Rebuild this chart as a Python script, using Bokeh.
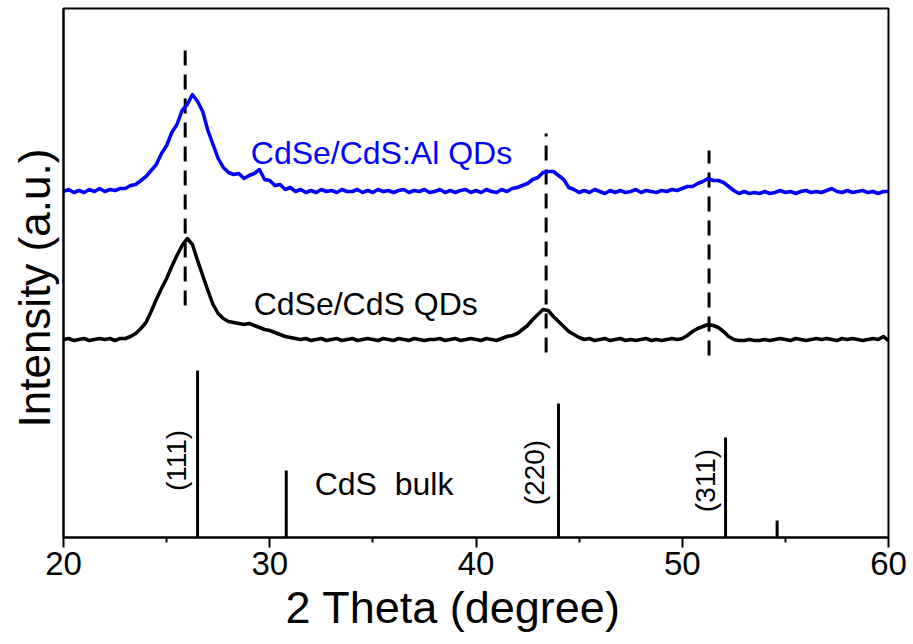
import math
from bokeh.plotting import figure
from bokeh.models import Range1d, Label, FixedTicker, Title
from bokeh.embed import file_html
from bokeh.resources import INLINE

# ---- data (2 theta in degrees, intensity in a.u.) ----
theta = [
    20.0, 20.25, 20.5, 20.75, 21.0, 21.25, 21.5, 21.75, 22.0, 22.25, 22.5, 22.75,
    23.0, 23.25, 23.5, 23.75, 24.0, 24.25, 24.5, 24.75, 25.0, 25.25, 25.5, 25.75,
    26.0, 26.25, 26.5, 26.75, 27.0, 27.25, 27.5, 27.75, 28.0, 28.25, 28.5, 28.75,
    29.0, 29.25, 29.5, 29.75, 30.0, 30.25, 30.5, 30.75, 31.0, 31.25, 31.5, 31.75,
    32.0, 32.25, 32.5, 32.75, 33.0, 33.25, 33.5, 33.75, 34.0, 34.25, 34.5, 34.75,
    35.0, 35.25, 35.5, 35.75, 36.0, 36.25, 36.5, 36.75, 37.0, 37.25, 37.5, 37.75,
    38.0, 38.25, 38.5, 38.75, 39.0, 39.25, 39.5, 39.75, 40.0, 40.25, 40.5, 40.75,
    41.0, 41.25, 41.5, 41.75, 42.0, 42.25, 42.5, 42.75, 43.0, 43.25, 43.5, 43.75,
    44.0, 44.25, 44.5, 44.75, 45.0, 45.25, 45.5, 45.75, 46.0, 46.25, 46.5, 46.75,
    47.0, 47.25, 47.5, 47.75, 48.0, 48.25, 48.5, 48.75, 49.0, 49.25, 49.5, 49.75,
    50.0, 50.25, 50.5, 50.75, 51.0, 51.25, 51.5, 51.75, 52.0, 52.25, 52.5, 52.75,
    53.0, 53.25, 53.5, 53.75, 54.0, 54.25, 54.5, 54.75, 55.0, 55.25, 55.5, 55.75,
    56.0, 56.25, 56.5, 56.75, 57.0, 57.25, 57.5, 57.75, 58.0, 58.25, 58.5, 58.75,
    59.0, 59.25, 59.5, 59.75, 60.0,
]

blue_int = [
    346, 348, 345, 347, 345, 348, 346, 349, 346, 348, 347, 349,
    349, 352, 353, 357, 361, 367, 373, 384, 392, 405, 413, 427,
    433, 443, 436, 426, 407, 393, 379, 370, 365, 363, 364, 359,
    362, 364, 368, 358, 357, 352, 353, 348, 350, 346, 348, 345,
    347, 345, 348, 346, 347, 345, 348, 346, 346, 348, 345, 347,
    345, 348, 346, 347, 345, 347, 348, 345, 347, 346, 348, 345,
    346, 348, 345, 347, 345, 347, 348, 345, 347, 345, 348, 346,
    345, 348, 346, 349, 350, 352, 354, 358, 360, 365, 366, 366,
    362, 358, 350, 348, 345, 347, 345, 348, 346, 344, 347, 345,
    347, 345, 346, 348, 345, 347, 346, 345, 347, 346, 348, 347,
    349, 351, 351, 354, 356, 359, 357, 357, 355, 351, 347, 344,
    346, 344, 345, 344, 346, 344, 345, 347, 345, 346, 344, 346,
    347, 345, 346, 345, 347, 349, 346, 345, 347, 345, 346, 347,
    345, 346, 344, 346, 346,
]

black_int = [
    198, 199, 197, 198, 199, 197, 198, 199, 198, 199, 197, 199,
    199, 201, 204, 209, 215, 226, 238, 249, 259, 271, 282, 292,
    299, 293, 277, 262, 247, 233, 224, 219, 216, 215, 214, 213,
    214, 212, 210, 208, 207, 205, 203, 201, 200, 199, 198, 199,
    197, 198, 199, 197, 198, 199, 197, 198, 199, 197, 198, 199,
    198, 197, 199, 198, 197, 199, 198, 197, 199, 198, 197, 198,
    198, 199, 197, 198, 199, 197, 198, 199, 198, 197, 199, 198,
    197, 199, 201, 202, 204, 208, 212, 218, 223, 228, 227, 221,
    216, 211, 206, 203, 200, 198, 199, 197, 198, 199, 197, 198,
    199, 197, 198, 197, 198, 199, 197, 198, 197, 198, 199, 198,
    199, 202, 206, 209, 211, 213, 212, 210, 206, 201, 198, 197,
    197, 198, 197, 197, 198, 197, 198, 199, 198, 197, 199, 198,
    197, 198, 199, 198, 199, 198, 197, 199, 198, 199, 198, 197,
    198, 199, 198, 201, 197,
]

bulk_theta = [26.5, 30.8, 44.0, 52.1, 54.6]
bulk_int = [167, 67, 134, 100, 17]

dash_theta = [25.9, 43.4, 51.3]
dash_top = [494, 404, 387]
dash_bottom = [232, 185, 182]

hkl_labels = ["(111)", "(220)", "(311)"]
hkl_theta = [25.46, 42.86, 51.14]
hkl_y = [77, 65, 57]

x_ticks = [20, 30, 40, 50, 60]
x_minor = [25, 35, 45, 55]

FONT = "Liberation Sans"

p = figure(width=913, height=644, output_backend="svg", toolbar_location=None,
           x_range=Range1d(20, 60), y_range=Range1d(0, 529),
           min_border_left=63, min_border_right=25, min_border_top=8, min_border_bottom=107)
p.xgrid.visible = False
p.ygrid.visible = False
p.outline_line_color = "black"
p.outline_line_width = 2
p.background_fill_color = "white"
p.border_fill_color = "white"

# x axis
xa = p.xaxis[0]
xa.ticker = FixedTicker(ticks=x_ticks, minor_ticks=x_minor)
xa.axis_line_width = 2
xa.major_tick_line_width = 2
xa.minor_tick_line_width = 2
xa.major_tick_in = 0
xa.major_tick_out = 10
xa.minor_tick_in = 0
xa.minor_tick_out = 5
xa.major_label_text_font = FONT
xa.major_label_text_font_size = "33px"
xa.major_label_text_color = "black"
xa.major_label_standoff = 4

# y axis (no ticks)
ya = p.yaxis[0]
ya.ticker = FixedTicker(ticks=[])
ya.axis_line_width = 2
ya.major_tick_out = 0
ya.major_tick_in = 0
ya.minor_tick_out = 0
ya.minor_tick_in = 0
ya.major_label_text_font_size = "0px"

# axis titles (side-panel titles so that they can be placed like the reference)
p.add_layout(Title(text="2 Theta (degree)", align="left", offset=222, standoff=5,
                   text_font=FONT, text_font_size="45px", text_font_style="normal",
                   text_color="black"), "below")
p.add_layout(Title(text="Intensity (a.u.)", align="left", offset=110, standoff=9,
                   text_font=FONT, text_font_size="44px", text_font_style="normal",
                   text_color="black"), "left")

# dashed guide lines
p.segment(x0=dash_theta, y0=dash_bottom, x1=dash_theta, y1=dash_top,
          line_color="black", line_width=3, line_dash="15 9")

# XRD curves
p.line(theta, black_int, line_color="black", line_width=3.5, line_join="round")
p.line(theta, blue_int, line_color="#0000ff", line_width=3.5, line_join="round")

# bulk reference sticks
p.segment(x0=bulk_theta, y0=[0] * len(bulk_theta), x1=bulk_theta, y1=bulk_int,
          line_color="black", line_width=3)

# labels
p.add_layout(Label(x=29.08, y=385, text="CdSe/CdS:Al QDs", text_color="#0000ff",
                   text_font=FONT, text_font_size="32px", text_baseline="alphabetic"))
p.add_layout(Label(x=29.22, y=234, text="CdSe/CdS QDs", text_color="black",
                   text_font=FONT, text_font_size="32px", text_baseline="alphabetic"))
p.add_layout(Label(x=32.18, y=54, text="CdS\u00a0 bulk", text_color="black",
                   text_font=FONT, text_font_size="32px", text_baseline="alphabetic"))
for t, x, y in zip(hkl_labels, hkl_theta, hkl_y):
    p.add_layout(Label(x=x, y=y, text=t, angle=math.pi / 2, text_color="black",
                       text_font=FONT, text_font_size="28px",
                       text_align="center", text_baseline="middle"))

open("out.html", "w").write(file_html(p, INLINE))
